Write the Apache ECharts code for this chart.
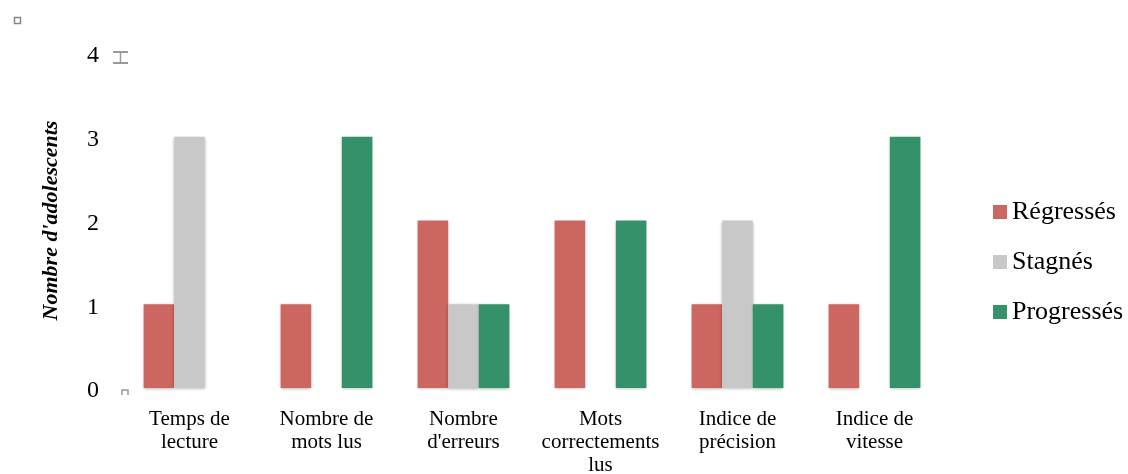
<!DOCTYPE html>
<html><head><meta charset="utf-8">
<script src="https://cdn.jsdelivr.net/npm/echarts@6/dist/echarts.min.js"></script>
<style>html,body{margin:0;padding:0;background:#fff}#c{width:1128px;height:474px}</style>
</head><body><div id="c"></div>
<script>
const categories = ["Temps de\nlecture", "Nombre de\nmots lus", "Nombre\nd'erreurs", "Mots\ncorrectements\nlus", "Indice de\nprécision", "Indice de\nvitesse"];
const regresses = [1, 1, 2, 2, 1, 1];
const stagnes = [3, 0, 1, 0, 2, 0];
const progresses = [0, 3, 1, 2, 1, 3];
const seriesNames = ["Régressés", "Stagnés", "Progressés"];
const yTicks = [0, 1, 2, 3, 4];

const serif = '"Liberation Serif","DejaVu Serif",serif';
const colors = ['#cc6660', '#c8c8c8', '#34916a'];
const chart = echarts.init(document.getElementById('c'));
const mk = (name, data, i) => ({
  name, type: 'bar', data, barGap: '0%', barCategoryGap: '33%',
  itemStyle: { color: colors[i], shadowBlur: 3, shadowColor: 'rgba(0,0,0,0.3)', shadowOffsetY: 1 }
});
chart.setOption({
  animation: false,
  grid: { left: 121, right: 185, top: 53, bottom: 86, outerBoundsMode: 'none', containLabel: false },
  legend: {
    orient: 'vertical', left: 988, top: 194, itemGap: 24,
    itemWidth: 14, itemHeight: 14, icon: 'rect',
    textStyle: { fontFamily: serif, fontSize: 26, lineHeight: 26, color: '#000', padding: [0, 0, 0, 0] },
    data: seriesNames
  },
  xAxis: {
    type: 'category', data: categories,
    axisLine: { show: false }, axisTick: { show: false },
    axisLabel: { fontFamily: serif, fontSize: 21, color: '#000', lineHeight: 23, margin: 20, interval: 0 }
  },
  yAxis: {
    type: 'value', min: yTicks[0], max: yTicks[yTicks.length - 1], interval: 1,
    name: "Nombre d'adolescents", nameLocation: 'middle', nameGap: 59,
    nameTextStyle: { fontFamily: serif, fontSize: 22, fontWeight: 'bold', fontStyle: 'italic', color: '#000' },
    splitLine: { show: false }, axisLine: { show: false }, axisTick: { show: false },
    axisLabel: {
      margin: 22,
      formatter: v => '{s|}\n{v|' + v + '}',
      rich: {
        s: { fontSize: 6, lineHeight: 6 },
        v: { fontFamily: serif, fontSize: 24, lineHeight: 24, color: '#000' }
      }
    }
  },
  series: [mk(seriesNames[0], regresses, 0), mk(seriesNames[1], stagnes, 1), mk(seriesNames[2], progresses, 2)],
  graphic: [
    { type: 'rect', left: 12, top: 15, shape: { width: 6, height: 6 }, style: { fill: 'none', stroke: '#888', lineWidth: 1.5 } },
    { type: 'polyline', shape: { points: [[113, 52], [128, 52]] }, style: { stroke: '#999', lineWidth: 2 } },
    { type: 'polyline', shape: { points: [[113, 63], [128, 63]] }, style: { stroke: '#999', lineWidth: 2 } },
    { type: 'polyline', shape: { points: [[120.5, 52], [120.5, 63]] }, style: { stroke: '#999', lineWidth: 1.5 } },
    { type: 'polyline', shape: { points: [[122, 395], [122, 390], [128, 390], [128, 395]] }, style: { fill: 'none', stroke: '#999', lineWidth: 1.5 } }
  ]
});
</script></body></html>
